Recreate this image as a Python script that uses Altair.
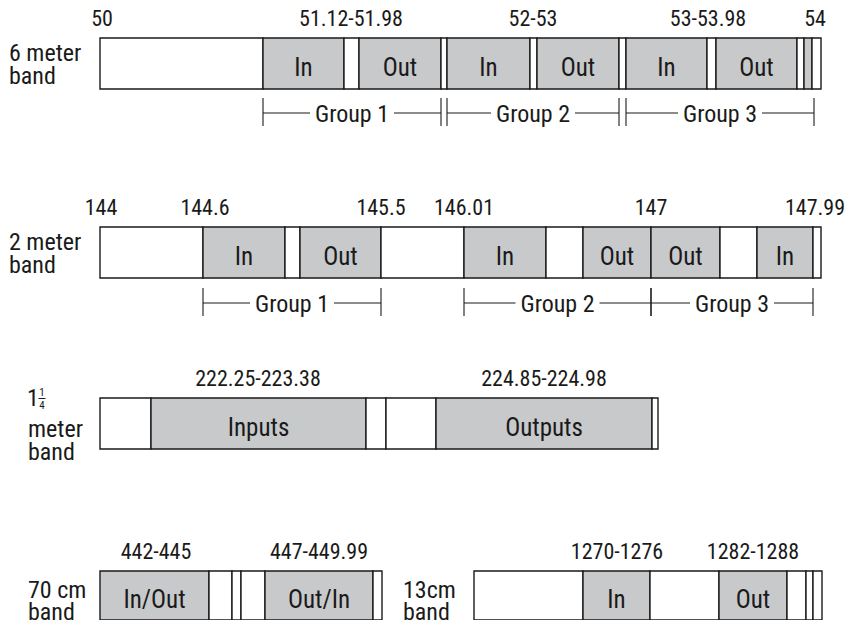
import altair as alt
import pandas as pd

FONT = "Roboto Condensed, Liberation Sans Narrow, DejaVu Sans Condensed, sans-serif"
GRAY = "#c8c9cb"
INK = "#1a1a1a"

# ---- band rows (diagram units) ----
row_ids = ["6m", "2m", "125", "70cm", "13cm"]
row_top = [38, 227, 398, 571, 571]
row_bottom = [89, 278, 449, 620, 620]

# segment edges, fills and labels for each band
six_edges = [100, 263, 344, 359, 441, 447, 530, 537, 619, 626, 707, 716, 797, 804, 812, 821]
six_fill = ["w", "g", "w", "g", "w", "g", "w", "g", "w", "g", "w", "g", "w", "g", "w"]
six_text = ["", "In", "", "Out", "", "In", "", "Out", "", "In", "", "Out", "", "", ""]

two_edges = [100, 203, 285, 300, 381, 464, 546, 583, 651, 720, 757, 813, 821]
two_fill = ["w", "g", "w", "g", "w", "g", "w", "g", "g", "w", "g", "w"]
two_text = ["", "In", "", "Out", "", "In", "", "Out", "Out", "", "In", ""]

q_edges = [100, 151, 366, 386, 436, 652, 658]
q_fill = ["w", "g", "w", "w", "g", "w"]
q_text = ["", "Inputs", "", "", "Outputs", ""]

seventy_edges = [100, 209, 232, 241, 265, 373, 382]
seventy_fill = ["g", "w", "w", "w", "g", "w"]
seventy_text = ["In/Out", "", "", "", "Out/In", ""]

thirteen_edges = [474, 583, 650, 719, 787, 806, 813, 822]
thirteen_fill = ["w", "g", "w", "g", "w", "w", "w"]
thirteen_text = ["", "In", "", "Out", "", "", ""]

# frequency labels above each band
six_freq = ["50", "51.12-51.98", "52-53", "53-53.98", "54"]
six_freq_x = [102, 351, 533, 708, 815]
two_freq = ["144", "144.6", "145.5", "146.01", "147", "147.99"]
two_freq_x = [101, 205, 381, 464, 651, 815]
q_freq = ["222.25-223.38", "224.85-224.98"]
q_freq_x = [258, 544]
seventy_freq = ["442-445", "447-449.99"]
seventy_freq_x = [156, 319]
thirteen_freq = ["1270-1276", "1282-1288"]
thirteen_freq_x = [617, 753]

# repeater groups (brackets under bands)
six_groups = ["Group 1", "Group 2", "Group 3"]
six_group_start = [263, 447, 626]
six_group_end = [441, 619, 814]
six_group_y = 113
two_groups = ["Group 1", "Group 2", "Group 3"]
two_group_start = [203, 464, 651]
two_group_end = [381, 651, 813]
two_group_y = 303

# band name labels (text, left x, baseline y)
name_text = ["6 meter", "band", "2 meter", "band", "meter", "band", "70 cm", "band", "13cm", "band"]
name_x = [9, 9, 9, 9, 28, 28, 28, 28, 403, 403]
name_y = [61, 84, 250, 273, 437, 460, 598, 620, 598, 620]

# ---- build tables ----
bands = [
    (six_edges, six_fill, six_text, six_freq, six_freq_x, 0),
    (two_edges, two_fill, two_text, two_freq, two_freq_x, 1),
    (q_edges, q_fill, q_text, q_freq, q_freq_x, 2),
    (seventy_edges, seventy_fill, seventy_text, seventy_freq, seventy_freq_x, 3),
    (thirteen_edges, thirteen_fill, thirteen_text, thirteen_freq, thirteen_freq_x, 4),
]
seg_rows, freq_rows = [], []
for edges, fills, texts, freqs, fx, r in bands:
    top, bot = row_top[r], row_bottom[r]
    for i in range(len(fills)):
        seg_rows.append(dict(x0=edges[i], x1=edges[i + 1], y0=top, y1=bot,
                             color=GRAY if fills[i] == "g" else "white",
                             label=texts[i], xm=(edges[i] + edges[i + 1]) / 2,
                             ym=(top + bot) / 2))
    for t, x in zip(freqs, fx):
        freq_rows.append(dict(label=t, x=x, y=top - 12))
segs = pd.DataFrame(seg_rows)
freq = pd.DataFrame(freq_rows)
seg_lab = segs[segs.label != ""]

GAP = 42
hl, ticks, glab = [], [], []
for names, st, en, gy in [(six_groups, six_group_start, six_group_end, six_group_y),
                          (two_groups, two_group_start, two_group_end, two_group_y)]:
    for n, s, e in zip(names, st, en):
        c = (s + e) / 2
        hl.append(dict(x0=s, x1=c - GAP, y0=gy, y1=gy))
        hl.append(dict(x0=c + GAP, x1=e, y0=gy, y1=gy))
        ticks.append(dict(x0=s, x1=s, y0=gy - 15, y1=gy + 13))
        ticks.append(dict(x0=e, x1=e, y0=gy - 15, y1=gy + 13))
        glab.append(dict(label=n, x=c, y=gy + 9))
lines = pd.DataFrame(hl + ticks)
glab = pd.DataFrame(glab)

names = pd.DataFrame(dict(label=name_text, x=name_x, y=name_y))

# the "1 1/4" label: big one plus a small stacked fraction
frac_text = ["1", "1", "4"]
frac_x = [27, 42, 42]
frac_y = [406, 396, 409]
frac_size = [24, 11, 11]
frac = pd.DataFrame(dict(label=frac_text, x=frac_x, y=frac_y, size=frac_size))
frac_bar = pd.DataFrame(dict(x0=[38.5], x1=[45.5], y0=[398.5], y1=[398.5]))

# ---- scales ----
XS = alt.Scale(domain=[8, 846], nice=False, zero=False)
YS = alt.Scale(domain=[8, 620], nice=False, zero=False, reverse=True)


def X(f):
    return alt.X(f, type="quantitative", scale=XS, axis=None)


def Y(f):
    return alt.Y(f, type="quantitative", scale=YS, axis=None)


rects = alt.Chart(segs).mark_rect(stroke=INK, strokeWidth=1.4).encode(
    x=X("x0"), x2="x1", y=Y("y0"), y2="y1",
    fill=alt.Fill("color:N", scale=None))

seg_text = alt.Chart(seg_lab).mark_text(font=FONT, fontSize=25, color=INK,
                                         baseline="alphabetic", align="center", dy=12).encode(
    x=X("xm"), y=Y("ym"), text="label:N")

freq_text = alt.Chart(freq).mark_text(font=FONT, fontSize=22, color=INK,
                                       baseline="alphabetic", align="center").encode(
    x=X("x"), y=Y("y"), text="label:N")

group_lines = alt.Chart(lines).mark_rule(color=INK, strokeWidth=1.1).encode(
    x=X("x0"), x2="x1", y=Y("y0"), y2="y1")

group_text = alt.Chart(glab).mark_text(font=FONT, fontSize=24, color=INK,
                                        baseline="alphabetic", align="center").encode(
    x=X("x"), y=Y("y"), text="label:N")

name_labels = alt.Chart(names).mark_text(font=FONT, fontSize=24, color=INK,
                                          baseline="alphabetic", align="left").encode(
    x=X("x"), y=Y("y"), text="label:N")

frac_big = alt.Chart(frac[frac["size"] > 20]).mark_text(
    font=FONT, fontSize=24, color=INK, baseline="alphabetic", align="left").encode(
    x=X("x"), y=Y("y"), text="label:N")
frac_small = alt.Chart(frac[frac["size"] < 20]).mark_text(
    font=FONT, fontSize=11, color=INK, baseline="alphabetic", align="center").encode(
    x=X("x"), y=Y("y"), text="label:N")
frac_line = alt.Chart(frac_bar).mark_rule(color=INK, strokeWidth=1).encode(
    x=X("x0"), x2="x1", y=Y("y0"), y2="y1")

chart = alt.layer(rects, seg_text, freq_text, group_lines, group_text,
                  name_labels, frac_big, frac_small, frac_line).properties(
    width=838, height=612, padding=0, autosize=alt.AutoSizeParams(type="none")
).configure_view(strokeWidth=0)

chart.save("out.html", embed_options={"renderer": "svg", "actions": False})
